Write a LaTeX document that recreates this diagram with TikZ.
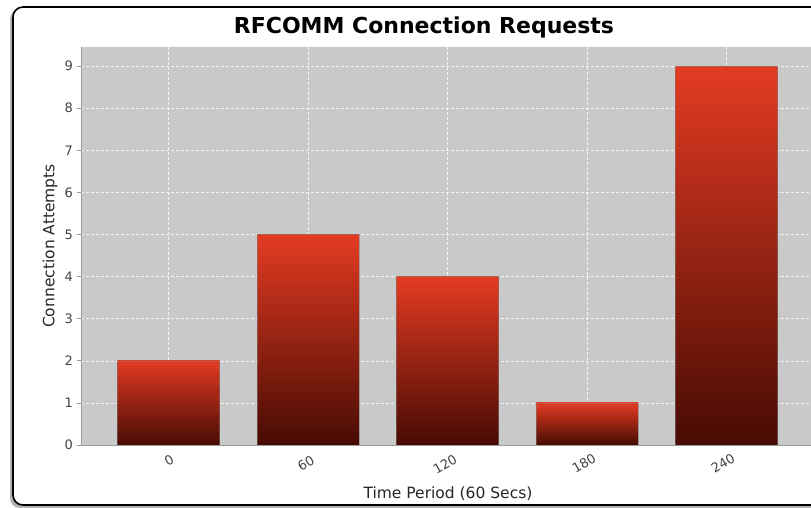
\documentclass[tikz,border=0pt]{standalone}
\usepackage{fontspec}
\setmainfont{DejaVu Sans}

\definecolor{plotgray}{HTML}{C9C9C9}
\definecolor{bartop}{HTML}{E33B22}
\definecolor{barbot}{HTML}{470B03}
\definecolor{axisgray}{HTML}{9A9A9A}
\definecolor{labelgray}{HTML}{444444}

\begin{document}
\begin{tikzpicture}[x=1pt,y=-1pt]

      \useasboundingbox (0,0) rectangle (811,508);

      \fill[black!30,rounded corners=10pt] (10,9) rectangle (840,508);
      \draw[fill=white,line width=1.6pt,rounded corners=10pt] (13,7) rectangle (840,505);

      \fill[plotgray] (81,47) rectangle (811,445);

      \begin{scope}[every path/.style={draw=white,draw opacity=0.8,dash pattern=on 3pt off 2pt,line width=0.5pt}]
        \foreach \v in {1,...,9}
          \path (81,445-42.1*\v) -- (811,445-42.1*\v);
        \foreach \c in {168.5,308,447.5,587,726.5}
          \path (\c,47) -- (\c,445);
      \end{scope}

      \foreach \c/\v in {168.5/2,308/5,447.5/4,587/1,726.5/9} {
        \shade[top color=bartop,bottom color=barbot] (\c-51,445) rectangle (\c+51,445-42.1*\v);
        \draw[gray,draw opacity=0.5,line width=0.6pt] (\c-51,445) rectangle (\c+51,445-42.1*\v);
      }

      \begin{scope}[axisgray,line width=0.8pt]
        \draw (81,47) -- (81,445) -- (811,445);
        \foreach \v in {0,...,9}
          \draw (77,445-42.1*\v) -- (81,445-42.1*\v);
      \end{scope}

      \begin{scope}[every node/.style={labelgray,inner sep=0pt,font=\fontsize{13}{15}\selectfont}]
        \foreach \v in {0,...,9}
          \node[anchor=east] (y\v) at (73,445-42.1*\v) {\v};
        \node[rotate=30] (x0) at (169,460) {0};
        \node[rotate=30] (x1) at (306,463) {60};
        \node[rotate=30] (x2) at (445,464) {120};
        \node[rotate=30] (x3) at (584,463) {180};
        \node[rotate=30] (x4) at (723,463) {240};
      \end{scope}

      \begin{scope}[every node/.style={black!85,font=\fontsize{15.5}{18}\selectfont}]
        \node[rotate=90] (ylab) at (50,246) {Connection Attempts};
        \node (xlab) at (448,494) {Time Period (60 Secs)};
      \end{scope}

      \node[font=\fontsize{22}{26}\selectfont\bfseries] (title) at (424,27) {RFCOMM Connection Requests};

    \end{tikzpicture}
\end{document}
